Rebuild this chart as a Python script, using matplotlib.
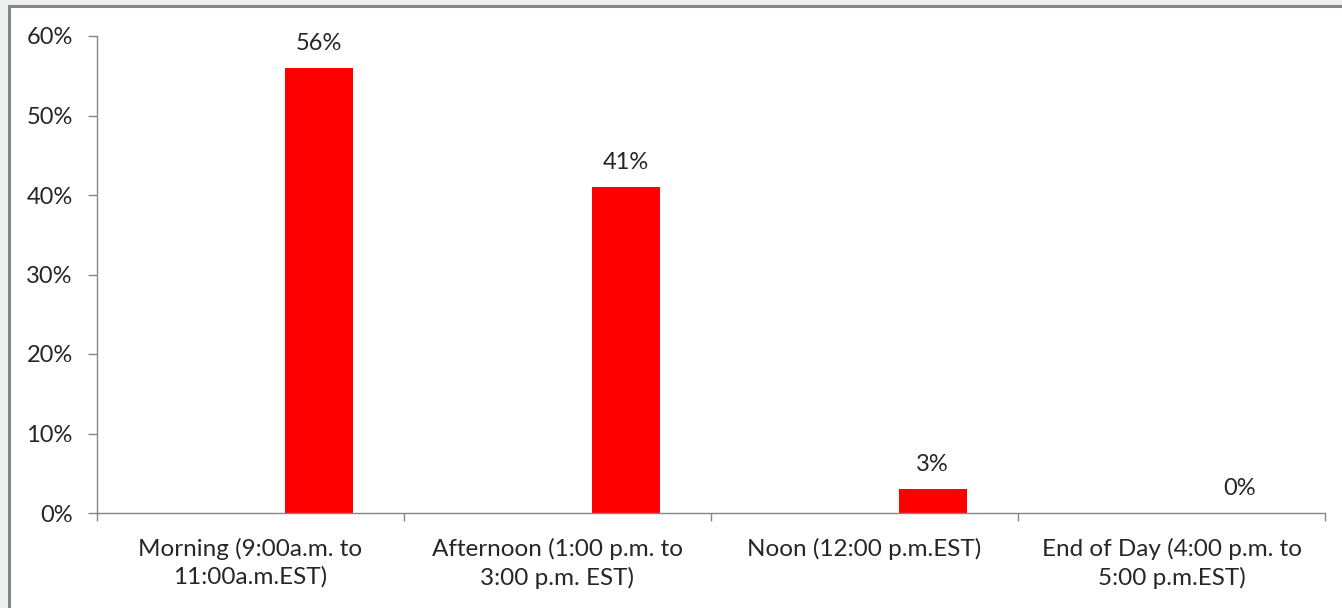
import matplotlib
matplotlib.use("Agg")
import matplotlib.pyplot as plt
from matplotlib.patches import Rectangle
from matplotlib.ticker import FixedLocator, PercentFormatter

# Preferred time of day
categories = [
    "Morning (9:00a.m. to\n11:00a.m.EST)",
    "Afternoon (1:00 p.m. to\n3:00 p.m. EST)",
    "Noon (12:00 p.m.EST)",
    "End of Day (4:00 p.m. to\n5:00 p.m.EST)",
]
shares = [56, 41, 3, 0]
y_ticks = [0, 10, 20, 30, 40, 50, 60]

W, H, DPI = 1342, 608, 100
FS = 17
FS_X = 17.5
TXT = "#262626"
plt.rcParams["font.family"] = ["Lato", "DejaVu Sans"]

fig = plt.figure(figsize=(W / DPI, H / DPI), dpi=DPI)
fig.patch.set_facecolor("white")

# outer background and chart frame
fig.patches.append(Rectangle((0, 0), 1, 1, transform=fig.transFigure,
                             facecolor="#eef0f0", edgecolor="none", zorder=-3))
fig.patches.append(Rectangle((9 / W, -0.05), 1.2, 1 - 6 / H + 0.05,
                             transform=fig.transFigure, facecolor="white",
                             edgecolor="#878787", linewidth=2.2, zorder=-2))

ax = fig.add_axes([97 / W, 1 - 513 / H, (1325 - 97) / W, (513 - 36) / H])
ax.set_facecolor("none")

bar_w = 1 / 4.5
xs = [i + bar_w for i in range(len(categories))]
ax.bar(xs, shares, width=bar_w, color="#ff0000", zorder=2)
for x, v in zip(xs, shares):
    ax.annotate(f"{v}%", (x, v), xytext=(0, 13), textcoords="offset points",
                ha="center", va="baseline", fontsize=FS, color=TXT)

ax.set_xlim(-0.5, len(categories) - 0.5)
ax.set_ylim(0, 60)
ax.yaxis.set_major_locator(FixedLocator(y_ticks))
ax.yaxis.set_major_formatter(PercentFormatter(decimals=0))

ax.set_xticks(range(len(categories)))
ax.set_xticklabels(categories, fontsize=FS_X, color=TXT, linespacing=1.36)
ax.xaxis.set_minor_locator(FixedLocator([i - 0.5 for i in range(len(categories) + 1)]))
ax.tick_params(axis="x", which="major", length=0, pad=18)
ax.tick_params(axis="x", which="minor", length=6, color="#868686", width=1)
ax.tick_params(axis="y", length=6.5, color="#868686", width=1, labelsize=FS,
               labelcolor=TXT, pad=11)

for s in ("top", "right"):
    ax.spines[s].set_visible(False)
for s in ("left", "bottom"):
    ax.spines[s].set_color("#868686")
    ax.spines[s].set_linewidth(1)

fig.savefig("out.png", dpi=DPI)
